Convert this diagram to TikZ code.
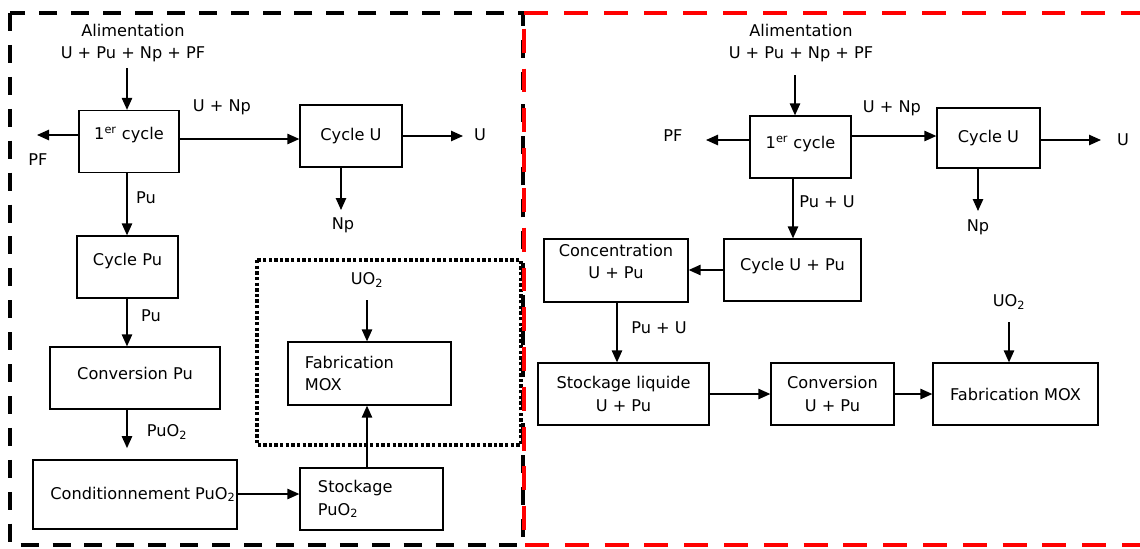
\documentclass[tikz,border=0pt]{standalone}
\usepackage{fontspec}
\setmainfont{DejaVu Sans}
\usetikzlibrary{arrows.meta}
\tikzset{>={Triangle[length=3mm,width=2.6mm]}}
\tikzset{
  box/.style={draw, line width=0.9pt, minimum height=1.55cm, inner sep=0pt},
  lbl/.style={inner sep=1pt},
  flow/.style={->, line width=1pt},
}

\begin{document}
\begin{tikzpicture}[x=0.025cm, y=-0.025cm, font=\fontsize{11.5}{16}\selectfont]
  \useasboundingbox (0,0) rectangle (1140,548);

  % frames
  \draw[line width=2.8pt, dash pattern=on 12.8pt off 9.9pt] (10,13) rectangle (523,545);
  \draw[line width=2.6pt, dash pattern=on 2.4pt off 1.6pt] (257,260) rectangle (521,445);
  \draw[red, line width=2.8pt, dash pattern=on 17pt off 11.3pt] (1145,13) -- (524,13) -- (524,545) -- (1145,545);

  % left: boxes
  \node[box, minimum width=2.5cm, text depth=0.4cm] (c1L) at (129,141.5) {1\textsuperscript{er} cycle};
  \node[box, minimum width=2.55cm] (cuL) at (351,136) {Cycle U};
  \node[box, minimum width=2.525cm, text depth=0.4cm] (cpL) at (127.5,267) {Cycle Pu};
  \node[box, minimum width=4.25cm, text depth=0.25cm] (convL) at (135,378) {Conversion Pu};
  \node[box, minimum width=5.1cm, minimum height=1.725cm] (condL) at (135,494.5) {\hspace{0.4cm}Conditionnement PuO\textsubscript{2}};
  \node[box, minimum width=3.575cm, text width=2.675cm, align=left] (stockL) at (371.5,499) {Stockage\\PuO\textsubscript{2}};
  \node[box, minimum width=4.075cm, minimum height=1.575cm, text width=3.225cm, align=left] (fabL) at (369.5,373.5) {Fabrication\\MOX};

  % left: labels
  \node[lbl, align=center] (feedL) at (133,43) {Alimentation\\U + Pu + Np + PF};
  \node[lbl] (pfL) at (38,160) {PF};
  \node[lbl] (unpL) at (222,107) {U + Np};
  \node[lbl] (uL) at (480,135) {U};
  \node[lbl] (npL) at (343,225) {Np};
  \node[lbl] (pu1L) at (146,198) {Pu};
  \node[lbl] (pu2L) at (151,316) {Pu};
  \node[lbl] (puoL) at (167,432) {PuO\textsubscript{2}};
  \node[lbl] (uoL) at (367,280) {UO\textsubscript{2}};

  \coordinate (pfLend) at (37,135);
  \coordinate (uLend) at (463,136);
  \coordinate (npLend) at (341,210);

  % left: flows
  \draw[flow] (127,68) -- (127,0 |- c1L.north);
  \draw[flow] (c1L.west |- pfLend) -- (pfLend);
  \draw[flow] (c1L.east |- 0,139) -- (cuL.west |- 0,139);
  \draw[flow] (cuL.east |- uLend) -- (uLend);
  \draw[flow] (npLend |- cuL.south) -- (npLend);
  \draw[flow] (127,172) -- (127,0 |- cpL.north);
  \draw[flow] (127,298) -- (127,0 |- convL.north);
  \draw[flow, shorten >=8pt] (127,0 |- convL.south) -- (127,0 |- condL.north);
  \draw[flow] (condL.east |- 0,494) -- (stockL.west |- 0,494);
  \draw[flow] (367,0 |- stockL.north) -- (367,0 |- fabL.south);
  \draw[flow] (367,300) -- (367,0 |- fabL.north);

  % right: boxes
  \node[box, minimum width=2.525cm, text depth=0.25cm] (c1R) at (800.5,147) {1\textsuperscript{er} cycle};
  \node[box, minimum width=2.575cm, minimum height=1.5cm] (cuR) at (988.5,138) {Cycle U};
  \node[box, minimum width=3.425cm, text depth=0.3cm] (cupR) at (792.5,270) {Cycle U + Pu};
  \node[box, minimum width=3.6cm, minimum height=1.575cm, align=center, text depth=0.45cm] (concR) at (616,270.5) {Concentration\\U + Pu};
  \node[box, minimum width=4.275cm, align=center] (stlR) at (623.5,394) {Stockage liquide\\U + Pu};
  \node[box, minimum width=3.075cm, align=center] (convR) at (832.5,394) {Conversion\\U + Pu};
  \node[box, minimum width=4.125cm] (fabR) at (1015.5,394) {Fabrication MOX};

  % right: labels
  \node[lbl, align=center] (feedR) at (801,43) {Alimentation\\U + Pu + Np + PF};
  \node[lbl] (pfR) at (673,136) {PF};
  \node[lbl] (unpR) at (892,108) {U + Np};
  \node[lbl] (uR) at (1123,140) {U};
  \node[lbl] (npR) at (978,227) {Np};
  \node[lbl] (puu1R) at (827,202) {Pu + U};
  \node[lbl] (puu2R) at (659,328) {Pu + U};
  \node[lbl] (uoR) at (1009,302) {UO\textsubscript{2}};

  \coordinate (pfRend) at (706,140);
  \coordinate (uRend) at (1101,140);
  \coordinate (npRend) at (978,211);

  % right: flows
  \draw[flow] (795,75) -- (795,0 |- c1R.north);
  \draw[flow] (c1R.west |- pfRend) -- (pfRend);
  \draw[flow] (c1R.east |- 0,136) -- (cuR.west |- 0,136);
  \draw[flow] (cuR.east |- uRend) -- (uRend);
  \draw[flow] (npRend |- cuR.south) -- (npRend);
  \draw[flow] (793,0 |- c1R.south) -- (793,0 |- cupR.north);
  \draw[flow] (cupR.west) -- (concR.east |- cupR.west);
  \draw[flow] (617,0 |- concR.south) -- (617,0 |- stlR.north);
  \draw[flow] (stlR.east) -- (convR.west);
  \draw[flow] (convR.east) -- (fabR.west);
  \draw[flow] (1009,322) -- (1009,0 |- fabR.north);
\end{tikzpicture}
\end{document}
